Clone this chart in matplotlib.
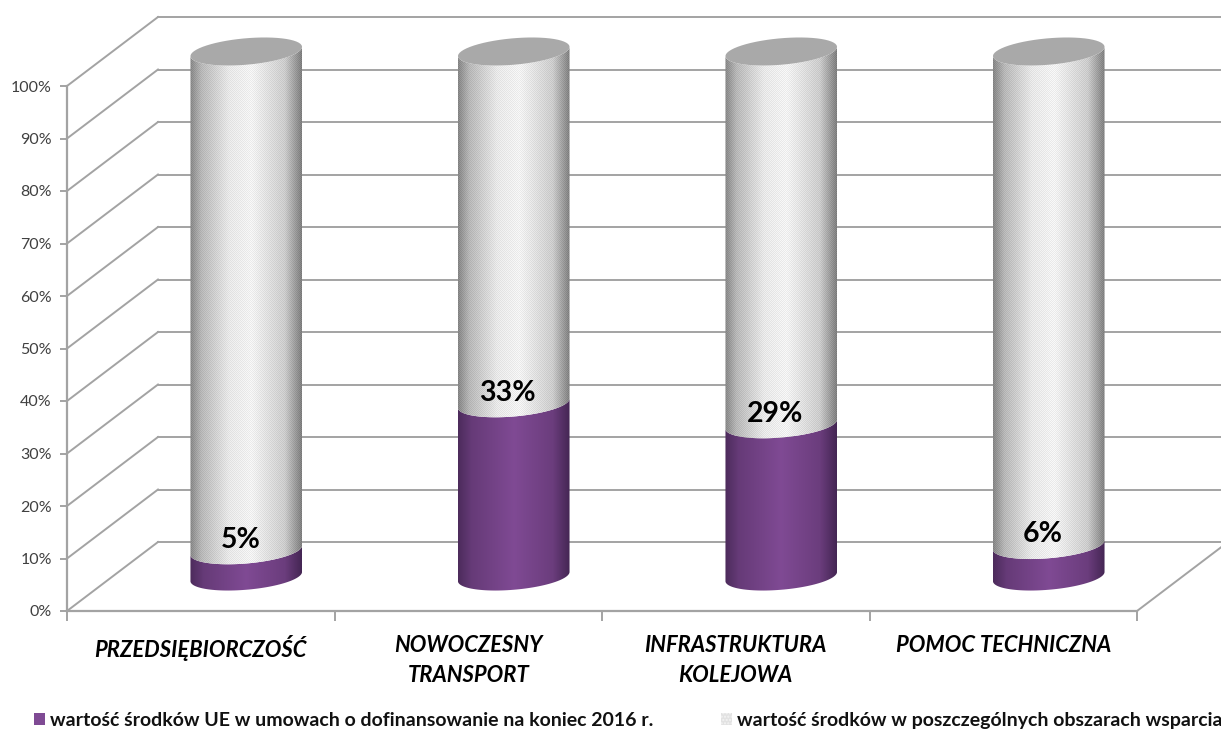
import numpy as np
import matplotlib
matplotlib.use('Agg')
import matplotlib.pyplot as plt
from matplotlib.patches import Patch, Polygon

plt.rcParams['font.family'] = ['Lato', 'DejaVu Sans']

categories = ['PRZEDSIĘBIORCZOŚĆ', 'NOWOCZESNY\nTRANSPORT', 'INFRASTRUKTURA\nKOLEJOWA', 'POMOC TECHNICZNA']
eu_share = [5, 33, 29, 6]
rest_share = [95, 67, 71, 94]
share_labels = ['5%', '33%', '29%', '6%']
legend_labels = ['wartość środków UE w umowach o dofinansowanie na koniec 2016 r.',
                 'wartość środków w poszczególnych obszarach wsparcia']
y_ticks = list(range(0, 101, 10))

W, H = 1221, 729
GRID = '#a3a3a3'
# px per data unit, used for the fake 3d depth
PX_X = 267.5
PX_Y = 5.25
DEPTH_X = 91 / PX_X
DEPTH_Y = 69 / PX_Y

fig = plt.figure(figsize=(W / 100, H / 100), dpi=100)
ax = fig.add_axes([67 / W, (H - 611) / H, 1070 / W, 525 / H])
ax.patch.set_visible(False)


def arc(cx, cy, start, end, n=60):
    # tilted ellipse, returned in data coords
    a, b, th = 56, 13.2, np.radians(5)
    t = np.linspace(start, end, n)
    px = a * np.cos(t) * np.cos(th) - b * np.sin(t) * np.sin(th)
    py = a * np.cos(t) * np.sin(th) + b * np.sin(t) * np.cos(th)
    return np.column_stack([cx + px / PX_X, cy + py / PX_Y])


def shade(stops, y0, y1, cx, clip, z, amp):
    # cylinder shading with a fine stipple like the original fill
    rows = int((y1 - y0) * PX_Y) + 1
    xs = np.linspace(0, 1, 112)
    img = np.zeros((rows, 112, 3))
    pos = [s[0] for s in stops]
    for c in range(3):
        img[:, :, c] = np.interp(xs, pos, [s[1][c] for s in stops])
    jj, ii = np.indices((rows, 112))
    img = img + amp * (((ii + jj) % 2) * 2 - 1)[:, :, None]
    im = ax.imshow(np.clip(img, 0, 1), extent=[cx - 56 / PX_X, cx + 56 / PX_X, y0, y1],
                   aspect='auto', interpolation='nearest', zorder=z)
    patch = Polygon(clip, closed=True, transform=ax.transData)
    im.set_clip_path(patch)
    im.set_clip_box(fig.bbox)


purple_stops = [(0, (0.30, 0.17, 0.36)), (0.12, (0.40, 0.23, 0.47)), (0.5, (0.50, 0.29, 0.58)),
                (0.85, (0.42, 0.24, 0.49)), (1, (0.27, 0.15, 0.33))]
grey_stops = [(0, (0.53, 0.53, 0.53)), (0.1, (0.72, 0.72, 0.72)), (0.35, (0.91, 0.91, 0.91)),
              (0.55, (0.95, 0.95, 0.95)), (0.85, (0.80, 0.80, 0.80)), (1, (0.50, 0.50, 0.50))]

# walls and floor
for v in y_ticks:
    ax.plot([0, DEPTH_X], [v, v + DEPTH_Y], color=GRID, lw=1.4, zorder=1, clip_on=False)
    ax.plot([DEPTH_X, 4 + DEPTH_X], [v + DEPTH_Y, v + DEPTH_Y], color=GRID, lw=1.4, zorder=1, clip_on=False)
ax.plot([4, 4 + DEPTH_X], [0, DEPTH_Y], color=GRID, lw=1.4, zorder=1, clip_on=False)

# cylinders
for i in range(len(categories)):
    cx = i + 0.5 + DEPTH_X / 2
    base = DEPTH_Y / 2
    mid = base + eu_share[i]
    top = mid + rest_share[i]
    low_arc = arc(cx, base, np.pi, 2 * np.pi)
    mid_arc = arc(cx, mid, np.pi, 2 * np.pi)
    top_arc = arc(cx, top, np.pi, 2 * np.pi)
    shade(purple_stops, base - 4, mid + 4, cx, np.vstack([mid_arc, low_arc[::-1]]), 3, 0.0)
    shade(grey_stops, mid - 4, top + 4, cx, np.vstack([top_arc, mid_arc[::-1]]), 4, 0.03)
    ax.add_patch(Polygon(arc(cx, top, 0, 2 * np.pi), closed=True, facecolor='#a9a9a9',
                         edgecolor='none', zorder=5, clip_on=False))
    ax.text(cx - 6 / PX_X, mid + 2.0, share_labels[i], ha='center', va='center', fontsize=20.5,
            fontweight='bold', color='black', zorder=6)

ax.set_xlim(0, 4)
ax.set_ylim(0, 100)
ax.set_xticks(range(5))
ax.set_xticklabels([])
ax.set_xticks([i + 0.5 for i in range(4)], minor=True)
ax.set_xticklabels(categories, minor=True, fontsize=15.8, fontweight='bold', fontstyle='italic',
                   color='black', linespacing=1.55)
ax.set_yticks(y_ticks)
ax.set_yticklabels([f'{v}%' for v in y_ticks], fontsize=11.5, color='#404040')
ax.tick_params(axis='x', which='major', length=7, width=1.4, color=GRID)
ax.tick_params(axis='x', which='minor', length=0, pad=17)
ax.tick_params(axis='y', length=5, width=1.4, color=GRID, pad=6)
for side in ['top', 'right']:
    ax.spines[side].set_visible(False)
for side in ['left', 'bottom']:
    ax.spines[side].set_color(GRID)
    ax.spines[side].set_linewidth(1.6)

handles = [Patch(facecolor='#7f4a94', edgecolor='none'),
           Patch(facecolor='#e2e2e2', edgecolor='#f4f4f4', hatch='.....', linewidth=0)]
fig.legend(handles, legend_labels, ncol=2, loc='lower left', bbox_to_anchor=(16.5 / W, -17.5 / H),
           frameon=False, handlelength=0.566, handleheight=0.566, handletextpad=0.25,
           columnspacing=3.5, prop={'size': 14.0, 'weight': 'bold'}, labelcolor='#111111')

fig.savefig('out.png', dpi=100)
